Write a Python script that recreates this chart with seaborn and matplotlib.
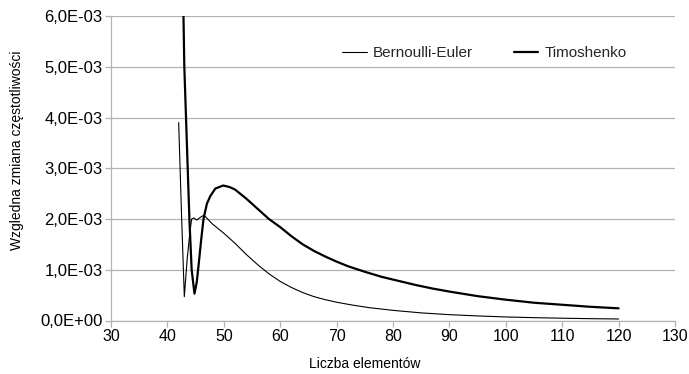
import matplotlib
matplotlib.use("Agg")
import matplotlib.pyplot as plt
import seaborn as sns
import pandas as pd

# Bernoulli-Euler series
be_x = [42, 42.5, 43, 43.5, 44, 44.3, 44.7, 45.2, 45.8, 46.4, 46.7, 48, 50, 52, 54, 56, 58,
        60, 62, 64, 66, 68, 70, 73, 76, 80, 85, 90, 95, 100, 105, 110, 115, 120]
be_y = [3.9e-3, 2.1e-3, 0.47e-3, 1.2e-3, 1.75e-3, 2.0e-3, 2.02e-3, 1.98e-3, 2.03e-3, 2.07e-3,
        2.05e-3, 1.9e-3, 1.72e-3, 1.52e-3, 1.30e-3, 1.10e-3, 0.92e-3,
        0.77e-3, 0.65e-3, 0.55e-3, 0.47e-3, 0.41e-3, 0.36e-3, 0.30e-3, 0.25e-3, 0.20e-3,
        0.15e-3, 0.115e-3, 0.09e-3, 0.07e-3, 0.056e-3, 0.045e-3, 0.036e-3, 0.03e-3]

# Timoshenko series
tm_x = [42.4, 43.0, 43.3, 43.6, 43.9, 44.3, 44.8, 45.2, 45.5, 46.0, 46.4, 47.0, 47.6, 48.5,
        49.9, 51, 52, 54, 56, 58, 60, 62, 64, 66, 68, 70, 72, 75, 78, 81, 84, 87, 90, 95,
        100, 105, 110, 115, 120]
tm_y = [9.0e-3, 5.0e-3, 4.0e-3, 3.0e-3, 2.0e-3, 1.0e-3, 0.53e-3, 0.75e-3, 1.06e-3, 1.6e-3,
        2.0e-3, 2.3e-3, 2.45e-3, 2.6e-3, 2.66e-3, 2.63e-3, 2.58e-3, 2.40e-3, 2.20e-3, 2.00e-3,
        1.84e-3, 1.66e-3, 1.50e-3, 1.37e-3, 1.26e-3, 1.16e-3, 1.07e-3, 0.96e-3, 0.86e-3,
        0.78e-3, 0.70e-3, 0.63e-3, 0.57e-3, 0.48e-3, 0.41e-3, 0.35e-3, 0.31e-3, 0.27e-3,
        0.24e-3]

series_names = ["Bernoulli-Euler", "Timoshenko"]
x_ticks = [30, 40, 50, 60, 70, 80, 90, 100, 110, 120, 130]
y_ticks = [0, 1e-3, 2e-3, 3e-3, 4e-3, 5e-3, 6e-3]
y_tick_labels = ["0,0E+00", "1,0E-03", "2,0E-03", "3,0E-03", "4,0E-03", "5,0E-03", "6,0E-03"]
x_label = "Liczba elementów"
y_label = "Wzgledna zmiana częstotliwości"

sns.set_theme(style="white")
plt.rcParams["font.family"] = ["Liberation Sans", "DejaVu Sans"]

fig = plt.figure(figsize=(6.89, 3.74), dpi=100)
ax = fig.add_axes([111 / 689, 1 - 320.5 / 374, (675 - 111) / 689, (320.5 - 16) / 374])

df_be = pd.DataFrame({"x": be_x, "y": be_y})
df_tm = pd.DataFrame({"x": tm_x, "y": tm_y})

sns.lineplot(data=df_be, x="x", y="y", ax=ax, color="black", linewidth=0.8,
             label=series_names[0], solid_joinstyle="round")
sns.lineplot(data=df_tm, x="x", y="y", ax=ax, color="black", linewidth=1.6,
             label=series_names[1], solid_joinstyle="round")

ax.set_xlim(30, 130)
ax.set_ylim(0, 6e-3)
ax.set_xticks(x_ticks)
ax.set_xticklabels([str(v) for v in x_ticks])
ax.set_yticks(y_ticks)
ax.set_yticklabels(y_tick_labels)

grid_c = "#b3b3b3"
ax.yaxis.grid(True, color=grid_c, linewidth=0.9)
ax.xaxis.grid(False)
ax.set_axisbelow(True)
for s in ["top", "right"]:
    ax.spines[s].set_visible(False)
for s in ["left", "bottom"]:
    ax.spines[s].set_color(grid_c)
    ax.spines[s].set_linewidth(0.9)
ax.tick_params(axis="both", which="major", direction="out", length=4, width=0.9,
               color=grid_c, labelcolor="black", pad=2)
ax.tick_params(axis="x", labelsize=11.5)
ax.tick_params(axis="y", labelsize=12)
ax.tick_params(axis="both", bottom=True, left=True)

ax.set_xlabel(x_label, fontsize=10, color="black")
ax.xaxis.set_label_coords((365 - 111) / 564, -(357 - 320.5) / 304.5)
ax.set_ylabel(y_label, fontsize=10, color="black")
ax.yaxis.set_label_coords(-(111 - 24) / 564, (320.5 - 150) / 304.5)

leg = ax.legend(loc="upper left", bbox_to_anchor=((336 - 111) / 564, 1 - (40 - 16) / 304.5),
                ncol=2, frameon=False, fontsize=11, handlelength=1.6, handletextpad=0.4,
                columnspacing=2.7, borderaxespad=0)

fig.savefig("out.png", dpi=100)
